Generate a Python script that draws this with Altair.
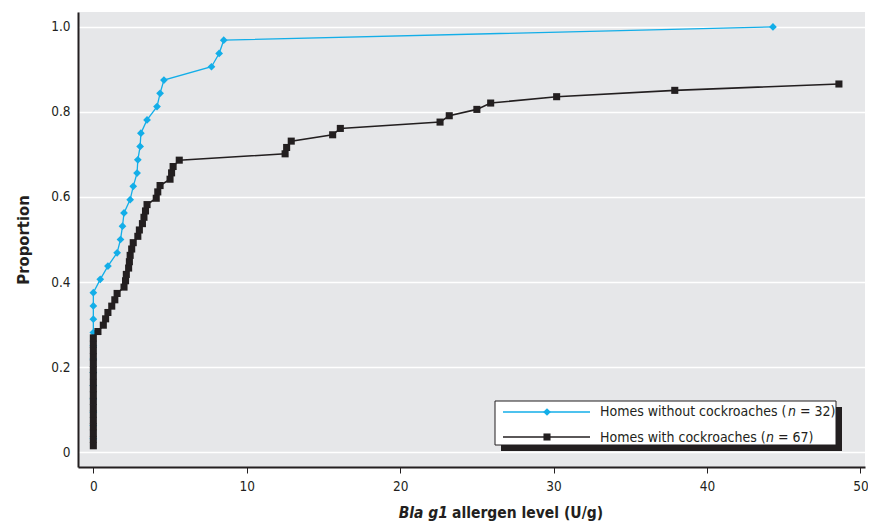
import altair as alt
import pandas as pd

# Homes without cockroaches (n = 32): allergen level and cumulative proportion
blue_x = [0, 0, 0, 0, 0, 0, 0, 0, 0, 0, 0, 0,
          0.45, 0.95, 1.55, 1.77, 1.9, 2.0, 2.4, 2.6, 2.85, 2.9, 3.05, 3.1,
          3.5, 4.15, 4.35, 4.6, 7.7, 8.2, 8.5, 44.3]
blue_k = list(range(1, 33))

# Homes with cockroaches (n = 67)
black_x = [0] * 18 + [
    0.3, 0.65, 0.8, 0.95, 1.2, 1.4, 1.55, 2.0, 2.1, 2.15, 2.3, 2.35, 2.4, 2.5,
    2.6, 2.9, 3.0, 3.2, 3.3, 3.4, 3.5, 4.1, 4.2, 4.35, 5.0, 5.1, 5.2, 5.6,
    12.5, 12.6, 12.9, 15.6, 16.1, 22.6, 23.2, 25.0, 25.9, 30.2, 37.9, 48.6]
black_k = list(range(1, 59))

x_ticks = [0, 10, 20, 30, 40, 50]
y_ticks = [0, 0.2, 0.4, 0.6, 0.8, 1.0]

BLUE = "#13aee8"
BLACK = "#231f20"
FONT = "'DejaVu Sans Condensed', 'Liberation Sans Narrow', Roboto, sans-serif"

blue_df = pd.DataFrame({"x": blue_x, "y": [k / 32 for k in blue_k], "i": blue_k})
black_df = pd.DataFrame({"x": black_x, "y": [k / 67 for k in black_k], "i": black_k})

xs = alt.Scale(domain=[-1, 50.3], nice=False, zero=False)
ys = alt.Scale(domain=[-0.035, 1.035], nice=False, zero=False)

xenc = alt.X("x:Q", scale=xs, axis=alt.Axis(
    values=x_ticks, title=None, grid=False, tickSize=6, tickColor=BLACK,
    domainColor=BLACK, domainWidth=2, labelFontSize=13.5, labelFont=FONT,
    labelColor=BLACK, labelPadding=6))
yenc = alt.Y("y:Q", scale=ys, axis=alt.Axis(
    values=y_ticks, title="Proportion", grid=True, gridColor="white",
    gridWidth=1.3, tickSize=0, domainColor=BLACK, domainWidth=2,
    labelFontSize=13.5, labelFont=FONT, labelColor=BLACK, labelPadding=8,
    labelExpr="datum.value == 0 ? '0' : format(datum.value, '.1f')",
    titleFont=FONT, titleFontSize=16.5, titleFontWeight="bold",
    titleColor=BLACK, titlePadding=19))

blue_line = alt.Chart(blue_df).mark_line(color=BLUE, strokeWidth=1.3).encode(
    x=xenc, y=yenc, order="i:Q")
blue_pts = alt.Chart(blue_df).mark_point(
    shape="diamond", filled=True, color=BLUE, size=60, opacity=1).encode(x="x:Q", y="y:Q")
black_line = alt.Chart(black_df).mark_line(color=BLACK, strokeWidth=1.6).encode(
    x="x:Q", y="y:Q", order="i:Q")
black_pts = alt.Chart(black_df).mark_point(
    shape="square", filled=True, color=BLACK, size=50, opacity=1).encode(x="x:Q", y="y:Q")

# legend box with drop shadow (pixel positions inside the plot area)
shadow = alt.Chart().mark_rect(color=BLACK).encode(
    x=alt.value(423), x2=alt.value(764), y=alt.value(395), y2=alt.value(439))
box = alt.Chart().mark_rect(color="white", stroke=BLACK, strokeWidth=1).encode(
    x=alt.value(417), x2=alt.value(758), y=alt.value(389), y2=alt.value(433))
leg_l1 = alt.Chart().mark_rule(color=BLUE, strokeWidth=1.3).encode(
    x=alt.value(425), x2=alt.value(512), y=alt.value(400))
leg_p1 = alt.Chart().mark_point(shape="diamond", filled=True, color=BLUE, size=60, opacity=1).encode(
    x=alt.value(469), y=alt.value(400))
leg_l2 = alt.Chart().mark_rule(color=BLACK, strokeWidth=1.6).encode(
    x=alt.value(425), x2=alt.value(512), y=alt.value(425))
leg_p2 = alt.Chart().mark_point(shape="square", filled=True, color=BLACK, size=50, opacity=1).encode(
    x=alt.value(469), y=alt.value(425))

def txt(s, x, y, align="left", style="normal", weight="normal", size=14, baseline="middle"):
    return alt.Chart().mark_text(
        text=s, align=align, baseline=baseline, font=FONT, fontSize=size,
        fontStyle=style, fontWeight=weight, color=BLACK).encode(
        x=alt.value(x), y=alt.value(y))

leg_texts = [
    txt("Homes without cockroaches (", 522, 400),
    txt("n", 710, 400, style="italic"),
    txt("= 32)", 722, 400),
    txt("Homes with cockroaches (", 522, 426),
    txt("n", 688, 426, style="italic"),
    txt("= 67)", 700, 426),
]

title_a = txt("Bla g1", 370, 506, align="right", style="italic", weight="bold",
              size=15.5, baseline="alphabetic")
title_b = txt("allergen level (U/g)", 374, 506, align="left", weight="bold",
              size=15.5, baseline="alphabetic")

chart = alt.layer(
    blue_line, blue_pts, black_line, black_pts,
    shadow, box, leg_l1, leg_p1, leg_l2, leg_p2, *leg_texts, title_a, title_b
).properties(
    width=787, height=455,
    autosize=alt.AutoSizeParams(type="none"),
    padding={"left": 70, "top": 4, "right": 3, "bottom": 54},
).configure_view(fill="#e6e7e9", stroke=None)

chart.save("out.html", embed_options={"renderer": "svg", "actions": False})
